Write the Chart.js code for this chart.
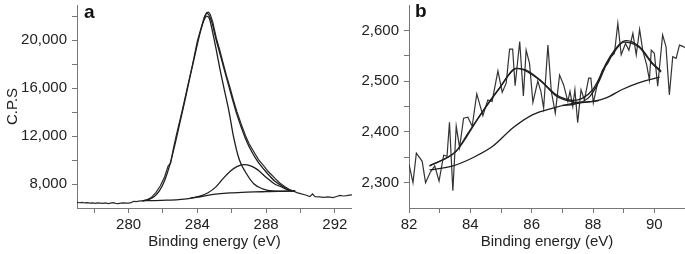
<!DOCTYPE html>
<html>
<head>
<meta charset="utf-8">
<script src="https://cdn.jsdelivr.net/npm/chart.js@4.4.1/dist/chart.umd.min.js"></script>
<style>
  body { margin: 0; background: #fff; }
  #wrap { position: relative; width: 685px; height: 254px; overflow: hidden; }
  canvas { position: absolute; top: 0; }
  .tag { position: absolute; font: bold 19px "Liberation Sans", Arial, sans-serif; color: #111; }
</style>
</head>
<body>
<div id="wrap">
  <canvas id="chartA" width="352" height="254" style="left:0"></canvas>
  <canvas id="chartB" width="333" height="254" style="left:352px"></canvas>
  <div class="tag" style="left:84px; top:1px">a</div>
  <div class="tag" style="left:415px; top:0px">b</div>
</div>
<script>
// ---- panel a: C 1s region ----
const aRawX = [277.0, 277.15, 277.3, 277.45, 277.6, 277.75, 277.9, 278.05, 278.2, 278.35, 278.5, 278.65, 278.8, 278.95,
  279.1, 279.25, 279.4, 279.55, 279.7, 279.85, 280.0, 280.15, 280.3, 280.45, 280.6, 280.75, 280.9, 281.0, 281.3, 281.6,
  281.85, 282.1, 282.3, 282.45, 282.6, 282.8, 283.1, 283.4, 283.7, 284.0, 284.2, 284.4, 284.55, 284.65, 284.75, 284.9,
  285.1, 285.3, 285.5, 285.7, 285.9, 286.1, 286.3, 286.55, 286.8, 287.0, 287.2, 287.55, 287.9, 288.1, 288.4, 288.6,
  288.8, 289.1, 289.4, 289.6, 289.8, 290.0, 290.3, 290.55, 290.7, 290.85, 291.1, 291.35, 291.6, 291.9, 292.1, 292.3,
  292.5, 292.7, 292.85, 293.0];
const aRawY = [6470, 6440, 6470, 6420, 6450, 6400, 6430, 6390, 6420, 6400, 6380, 6420, 6370, 6410,
  6440, 6390, 6360, 6400, 6430, 6400, 6410, 6450, 6560, 6530, 6570, 6600, 6620, 6650, 6850, 7300,
  7850, 8600, 9500, 9750, 10900, 12200, 14000, 15900, 17800, 19900, 20900, 21900, 22300, 22320, 22150, 21500,
  20200, 19200, 18100, 17000, 16050, 15000, 14050, 13000, 12050, 11400, 10900, 10050, 9450, 9080, 8650, 8350,
  8080, 7780, 7500, 7400, 7280, 7200, 7080, 6950, 7170, 6950, 6920, 6890, 6920, 6870, 6960, 7050,
  7000, 7030, 7080, 7100];

const aFitX = [284.4, 284.55, 284.8, 285.1, 285.5, 285.9, 286.3, 286.8, 287.2, 287.55, 288.1, 288.5, 288.8, 289.2, 289.6];
const aFitY = [21850, 22250, 21700, 20000, 17900, 15800, 13800, 11800, 10600, 9800, 8850, 8250, 7950, 7600, 7420];

const aPeak1X = [280.8, 281.2, 281.5, 281.8, 282.1, 282.4, 282.7, 283.0, 283.3, 283.6, 283.9, 284.2, 284.4, 284.55,
  284.7, 284.9, 285.1, 285.3, 285.55, 285.85, 286.1, 286.45, 286.8, 287.3, 287.8, 288.4, 289.0, 289.6];
const aPeak1Y = [6600, 6720, 6950, 7450, 8300, 9600, 11300, 13200, 15100, 17100, 19000, 20800, 21700, 22000,
  21800, 20600, 19200, 17700, 16000, 14000, 12000, 10000, 9000, 8000, 7600, 7420, 7400, 7420];

const aPeak2X = [283.6, 284.1, 284.6, 285.1, 285.5, 285.9, 286.3, 286.7, 287.1, 287.5, 288.05, 288.5, 288.9, 289.3, 289.7];
const aPeak2Y = [6820, 6960, 7250, 7780, 8450, 9050, 9450, 9620, 9520, 9200, 8500, 8000, 7750, 7480, 7420];

const aBgX = [280.8, 281.5, 282.2, 282.9, 283.5, 284.0, 284.6, 285.2, 285.9, 286.6, 287.3, 288.0, 288.7, 289.3, 289.7];
const aBgY = [6600, 6620, 6650, 6700, 6780, 6900, 7050, 7170, 7260, 7310, 7340, 7360, 7380, 7400, 7420];

const aXTicks = [278, 280, 282, 284, 286, 288, 290, 292];
const aXLabels = [280, 284, 288, 292];
const aYTicks = [8000, 10000, 12000, 14000, 16000, 18000, 20000, 22000];
const aYLabels = [8000, 12000, 16000, 20000];

// ---- panel b ----
const bRawX = [82.0, 82.13, 82.24, 82.43, 82.54, 82.69, 82.84, 82.98, 83.13, 83.24, 83.32, 83.43, 83.54, 83.65,
  83.78, 83.92, 84.06, 84.21, 84.41, 84.57, 84.71, 84.9, 85.04, 85.17, 85.28, 85.38, 85.46, 85.61, 85.73, 85.82,
  85.93, 86.04, 86.2, 86.3, 86.39, 86.53, 86.64, 86.77, 86.91, 87.04, 87.18, 87.25, 87.34, 87.41, 87.5, 87.61,
  87.72, 87.86, 87.93, 88.01, 88.15, 88.31, 88.48, 88.59, 88.7, 88.81, 88.92, 89.06, 89.17, 89.3, 89.41, 89.52,
  89.62, 89.75, 89.84, 89.9, 90.0, 90.11, 90.27, 90.38, 90.49, 90.6, 90.71, 90.82, 90.95, 91.0];
const bRawY = [2336, 2300, 2358, 2342, 2300, 2320, 2333, 2303, 2354, 2352, 2419, 2284, 2411, 2369,
  2427, 2429, 2411, 2475, 2432, 2463, 2460, 2520, 2478, 2496, 2563, 2563, 2491, 2578, 2471, 2561,
  2535, 2458, 2500, 2480, 2447, 2571, 2480, 2437, 2512, 2493, 2460, 2480, 2450, 2483, 2418, 2483,
  2463, 2506, 2506, 2457, 2496, 2522, 2535, 2548, 2555, 2614, 2552, 2574, 2561, 2594, 2552, 2602,
  2561, 2532, 2502, 2561, 2555, 2490, 2591, 2568, 2473, 2548, 2545, 2571, 2568, 2566];

const bFitX = [82.67, 83.1, 83.54, 83.9, 84.3, 84.65, 84.95, 85.25, 85.5, 85.8, 86.26, 86.8, 87.1, 87.34, 87.65,
  87.99, 88.2, 88.43, 88.7, 88.97, 89.1, 89.51, 89.95, 90.22];
const bFitY = [2333, 2345, 2362, 2395, 2431, 2462, 2486, 2512, 2525, 2522, 2503, 2473, 2465, 2462, 2466,
  2483, 2505, 2535, 2561, 2578, 2580, 2568, 2535, 2520];

const bPeak1X = [82.67, 83.54, 84.3, 84.95, 85.5, 86.26, 86.8, 87.2, 87.6, 88.0, 88.2];
const bPeak1Y = [2333, 2362, 2431, 2486, 2525, 2502, 2471, 2461, 2458, 2460, 2462];

const bPeak2X = [87.0, 87.5, 87.9, 88.2, 88.43, 88.7, 89.0, 89.5, 89.95, 90.22];
const bPeak2Y = [2452, 2456, 2470, 2500, 2532, 2558, 2577, 2567, 2533, 2518];

const bBgX = [82.67, 83.43, 84.08, 84.74, 85.39, 86.04, 86.69, 87.34, 87.99, 88.43, 88.97, 89.51, 90.17];
const bBgY = [2325, 2333, 2349, 2372, 2408, 2434, 2447, 2456, 2460, 2467, 2484, 2497, 2508];

const bXTicks = [82, 83, 84, 85, 86, 87, 88, 89, 90];
const bXLabels = [82, 84, 86, 88, 90];
const bYTicks = [2300, 2350, 2400, 2450, 2500, 2550, 2600];
const bYLabels = [2300, 2400, 2500, 2600];

const FONT = { family: '"Liberation Sans", Arial, sans-serif', size: 15 };
const TEXT = '#222';
const AXIS = '#777';

function pts(xs, ys) {
  return xs.map((x, i) => ({ x: x, y: ys[i] }));
}

function line(xs, ys, smooth, color, width) {
  return {
    data: pts(xs, ys),
    borderColor: color || '#1e1e1e',
    borderWidth: width || 1.3,
    pointRadius: 0,
    fill: false,
    tension: 0,
    cubicInterpolationMode: smooth ? 'monotone' : 'default'
  };
}

function fmt(v) {
  return v.toLocaleString('en-US');
}

// size is the fixed axis height (x) or width (y); label overhang padding is dropped
function axis(min, max, tickVals, labelVals, padding, size, title) {
  return {
    type: 'linear',
    min: min,
    max: max,
    afterBuildTicks: s => { s.ticks = tickVals.map(v => ({ value: v })); },
    afterFit: s => {
      if (s.isHorizontal()) { s.height = size; s.paddingLeft = 0; s.paddingRight = 0; }
      else { s.width = size; s.paddingTop = 0; s.paddingBottom = 0; }
    },
    grid: { drawOnChartArea: false, drawTicks: true, tickLength: 5, color: AXIS },
    border: { display: true, color: AXIS, width: 1 },
    ticks: {
      autoSkip: false,
      maxRotation: 0,
      padding: padding,
      color: TEXT,
      font: FONT,
      callback: v => labelVals.includes(v) ? fmt(v) : ''
    },
    title: title ? { display: true, text: title, color: TEXT, font: FONT, padding: title === 'C.P.S' ? { top: 4, bottom: 0 } : { top: 0, bottom: 3 } } : { display: false }
  };
}

function makeChart(id, datasets, xAxis, yAxis) {
  new Chart(document.getElementById(id), {
    type: 'line',
    data: { datasets: datasets },
    options: {
      responsive: false,
      animation: false,
      events: [],
      layout: { padding: { top: 5, right: 0, bottom: 0, left: 0 } },
      plugins: { legend: { display: false }, tooltip: { enabled: false } },
      scales: { x: xAxis, y: yAxis }
    }
  });
}

makeChart('chartA', [
  line(aBgX, aBgY, true),
  line(aPeak2X, aPeak2Y, true),
  line(aPeak1X, aPeak1Y, true),
  line(aFitX, aFitY, true),
  line(aRawX, aRawY, false, '#2a2a2a', 1.2)
],
  axis(277, 293, aXTicks, aXLabels, 3, 46, 'Binding energy (eV)'),
  axis(6000, 22920, aYTicks, aYLabels, 5, 77, 'C.P.S'));

makeChart('chartB', [
  line(bBgX, bBgY, true),
  line(bPeak1X, bPeak1Y, true),
  line(bPeak2X, bPeak2Y, true),
  line(bFitX, bFitY, true),
  line(bRawX, bRawY, false, '#333', 1.2)
],
  axis(82, 91, bXTicks, bXLabels, 3, 46, 'Binding energy (eV)'),
  axis(2250, 2650, bYTicks, bYLabels, 5, 57, null));
</script>
</body>
</html>
